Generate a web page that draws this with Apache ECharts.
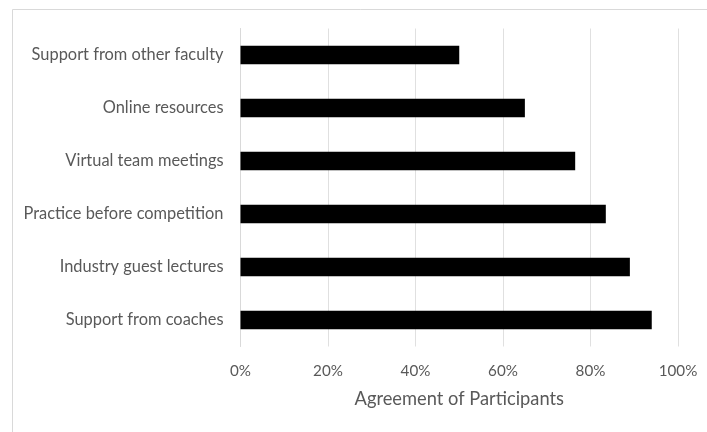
<!DOCTYPE html>
<html>
<head>
<meta charset="utf-8">
<script src="https://cdn.jsdelivr.net/npm/echarts@6/dist/echarts.min.js"></script>
<style>
html,body{margin:0;padding:0;background:#fff;}
#chart{width:707px;height:432px;}
</style>
</head>
<body>
<div id="chart"></div>
<script>
const categories = ["Support from other faculty", "Online resources", "Virtual team meetings", "Practice before competition", "Industry guest lectures", "Support from coaches"];
const agreement = [50, 65, 76.5, 83.5, 89, 94];
const xTicks = [0, 20, 40, 60, 80, 100];
const axisTitle = "Agreement of Participants";

const FONT = "Lato, 'Liberation Sans', sans-serif";
const chart = echarts.init(document.getElementById('chart'), null, {renderer: 'canvas'});
chart.setOption({
  backgroundColor: '#ffffff',
  animation: false,
  graphic: [{
    type: 'rect', left: 10, top: 7,
    shape: {width: 740, height: 460},
    style: {fill: 'none', stroke: '#d9d9d9', lineWidth: 1}
  }],
  grid: {left: 240.5, right: 29, top: 28.5, bottom: 85.5, containLabel: false},
  xAxis: {
    type: 'value', min: xTicks[0], max: xTicks[xTicks.length - 1], interval: 20,
    axisLine: {show: false}, axisTick: {show: false},
    splitLine: {show: true, lineStyle: {color: '#e0e0e0', width: 1}},
    axisLabel: {formatter: '{value}%', color: '#595959', fontSize: 15.2, fontFamily: FONT, margin: 17},
    name: axisTitle, nameLocation: 'middle', nameGap: 44,
    nameTextStyle: {color: '#595959', fontSize: 18.3, fontFamily: FONT}
  },
  yAxis: {
    type: 'category', data: categories, inverse: true,
    axisLine: {show: true, lineStyle: {color: '#d9d9d9', width: 1}},
    axisTick: {show: false},
    axisLabel: {color: '#595959', fontSize: 16.4, fontFamily: FONT, margin: 17}
  },
  series: [{
    type: 'bar', data: agreement, barWidth: 18.5,
    itemStyle: {color: '#000000'}
  }]
});
</script>
</body>
</html>
